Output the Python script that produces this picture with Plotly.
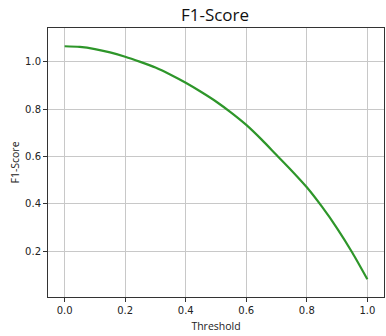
import plotly.graph_objects as go

thresholds = [0.00, 0.05, 0.10, 0.15, 0.20, 0.25, 0.30, 0.35, 0.40, 0.45, 0.50,
              0.55, 0.60, 0.65, 0.70, 0.75, 0.80, 0.85, 0.90, 0.95, 1.00]
f1_scores = [1.065, 1.062, 1.053, 1.039, 1.021, 0.999, 0.975, 0.945, 0.911, 0.873, 0.832,
             0.785, 0.733, 0.672, 0.606, 0.540, 0.470, 0.388, 0.297, 0.195, 0.082]
x_ticks = [0.0, 0.2, 0.4, 0.6, 0.8, 1.0]
y_ticks = [0.2, 0.4, 0.6, 0.8, 1.0]

FONT = "DejaVu Sans"
TITLE_FONT = "Open Sans"

fig = go.Figure()
fig.add_trace(go.Scatter(x=thresholds, y=f1_scores, mode="lines",
                         line=dict(color="#2e962a", width=2.2, shape="spline", smoothing=0.8),
                         showlegend=False))

axis_common = dict(
    showline=True, linecolor="#333333", linewidth=1, mirror=True,
    showgrid=True, gridcolor="#c8c8c8", gridwidth=0.8,
    ticks="outside", ticklen=4, tickwidth=1, tickcolor="#333333",
    tickfont=dict(family=FONT, size=10, color="#222222"),
    zeroline=False, tickformat=".1f", automargin=False,
)

fig.update_layout(
    width=386, height=336,
    margin=dict(l=48, r=2, t=28, b=39),
    paper_bgcolor="white", plot_bgcolor="white",
    title=dict(text="F1-Score", x=0.557, xanchor="center", y=0.955, yanchor="middle",
               font=dict(family=TITLE_FONT, size=17, color="#111111")),
    xaxis=dict(range=[-0.055, 1.055], tickvals=x_ticks,
               title=dict(text="Threshold", standoff=7,
                          font=dict(family=TITLE_FONT, size=10.5, color="#222222")),
               **axis_common),
    yaxis=dict(range=[0.007, 1.142], tickvals=y_ticks,
               title=dict(text="F1-Score", standoff=3,
                          font=dict(family=TITLE_FONT, size=10.5, color="#222222")),
               **axis_common),
)

fig.write_html("out.html", config={"displayModeBar": False},
               post_script="document.body.style.margin='0';document.body.style.overflow='hidden';")
